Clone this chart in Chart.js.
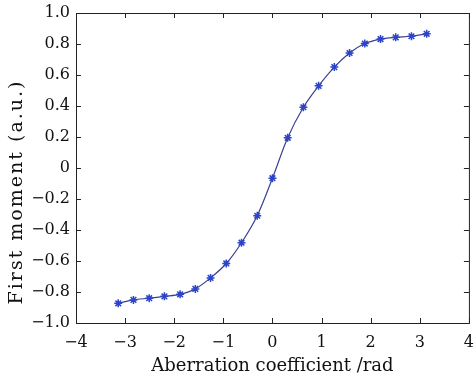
<!DOCTYPE html>
<html>
<head>
<meta charset="utf-8">
<script src="https://cdn.jsdelivr.net/npm/chart.js@4.4.0/dist/chart.umd.min.js"></script>
<style>
  html, body { margin: 0; padding: 0; background: #fff; }
  #wrap { width: 476px; height: 377px; }
</style>
</head>
<body>
<div id="wrap"><canvas id="myChart" width="476" height="377"></canvas></div>
<script>
// aberration coefficient (rad), k*pi/10
const xValues = [-3.14, -2.83, -2.51, -2.20, -1.88, -1.57, -1.26, -0.94, -0.63, -0.31, 0,
                 0.31, 0.63, 0.94, 1.26, 1.57, 1.88, 2.20, 2.51, 2.83, 3.14];
const firstMoment = [-0.873, -0.851, -0.840, -0.828, -0.815, -0.780, -0.709, -0.616, -0.482, -0.308, -0.066,
                     0.195, 0.392, 0.530, 0.651, 0.742, 0.803, 0.832, 0.843, 0.850, 0.866];
const xTicks = [-4, -3, -2, -1, 0, 1, 2, 3, 4];
const yTicks = [-1.0, -0.8, -0.6, -0.4, -0.2, 0, 0.2, 0.4, 0.6, 0.8, 1.0];
const yTitle = 'First moment (a.u.)';

const fontFam = '"DejaVu Serif", "Liberation Serif", serif';
const ctx = document.getElementById('myChart');

function fmt(v, dec) {
  if (Math.abs(v) < 1e-9) return '0';
  return v.toFixed(dec).replace('-', '\u2212');
}

// box + inward ticks on all four sides, and the y title
const boxPlugin = {
  id: 'boxPlugin',
  afterDraw(chart) {
    const c = chart.ctx, a = chart.chartArea;
    const xs = chart.scales.x, ys = chart.scales.y;
    c.save();
    c.strokeStyle = '#222';
    c.lineWidth = 1;
    c.strokeRect(a.left + 0.5, a.top + 0.5, a.right - a.left, a.bottom - a.top);
    c.beginPath();
    xTicks.forEach(t => {
      const px = Math.round(xs.getPixelForValue(t)) + 0.5;
      c.moveTo(px, a.bottom); c.lineTo(px, a.bottom - 5);
      c.moveTo(px, a.top); c.lineTo(px, a.top + 5);
    });
    yTicks.forEach(t => {
      const py = Math.round(ys.getPixelForValue(t)) + 0.5;
      c.moveTo(a.left, py); c.lineTo(a.left + 5, py);
      c.moveTo(a.right, py); c.lineTo(a.right - 5, py);
    });
    c.stroke();

    // y title sits a bit below the axis middle in the original
    c.translate(17, 192);
    c.rotate(-Math.PI / 2);
    c.font = '19px ' + fontFam;
    c.letterSpacing = '2px';
    c.fillStyle = '#111';
    c.textAlign = 'center';
    c.textBaseline = 'middle';
    c.fillText(yTitle, 0, 0);
    c.letterSpacing = '0px';
    c.restore();
  }
};

new Chart(ctx, {
  type: 'line',
  data: {
    datasets: [{
      data: xValues.map((x, i) => ({ x: x, y: firstMoment[i] })),
      borderColor: '#3b3f8f',
      borderWidth: 1.2,
      tension: 0.3,
      pointStyle: 'star',
      pointRadius: 4,
      pointBorderColor: '#2b44c8',
      pointBorderWidth: 1.5,
      fill: false
    }]
  },
  options: {
    responsive: false,
    animation: false,
    layout: { padding: { left: 0, right: 2, top: 13, bottom: 0 } },
    plugins: { legend: { display: false }, tooltip: { enabled: false } },
    scales: {
      x: {
        type: 'linear',
        min: -4, max: 4,
        afterBuildTicks: s => { s.ticks = xTicks.map(v => ({ value: v })); },
        afterFit: s => { s.height = 54; },
        ticks: {
          callback: v => fmt(v, 0),
          color: '#111',
          font: { family: fontFam, size: 16 },
          maxRotation: 0,
          padding: 2
        },
        grid: { display: false, tickLength: 8 },
        border: { display: false },
        title: {
          display: true,
          text: 'Aberration coefficient /rad',
          color: '#111',
          font: { family: fontFam, size: 18 },
          padding: { top: 2, bottom: 0 }
        }
      },
      y: {
        min: -1, max: 1,
        afterBuildTicks: s => { s.ticks = yTicks.map(v => ({ value: v })); },
        afterFit: s => { s.width = 76; },
        ticks: {
          callback: v => fmt(v, 1),
          color: '#111',
          font: { family: fontFam, size: 16 },
          padding: 0
        },
        grid: { display: false, tickLength: 6 },
        border: { display: false },
        title: { display: false }
      }
    }
  },
  plugins: [boxPlugin]
});
</script>
</body>
</html>
